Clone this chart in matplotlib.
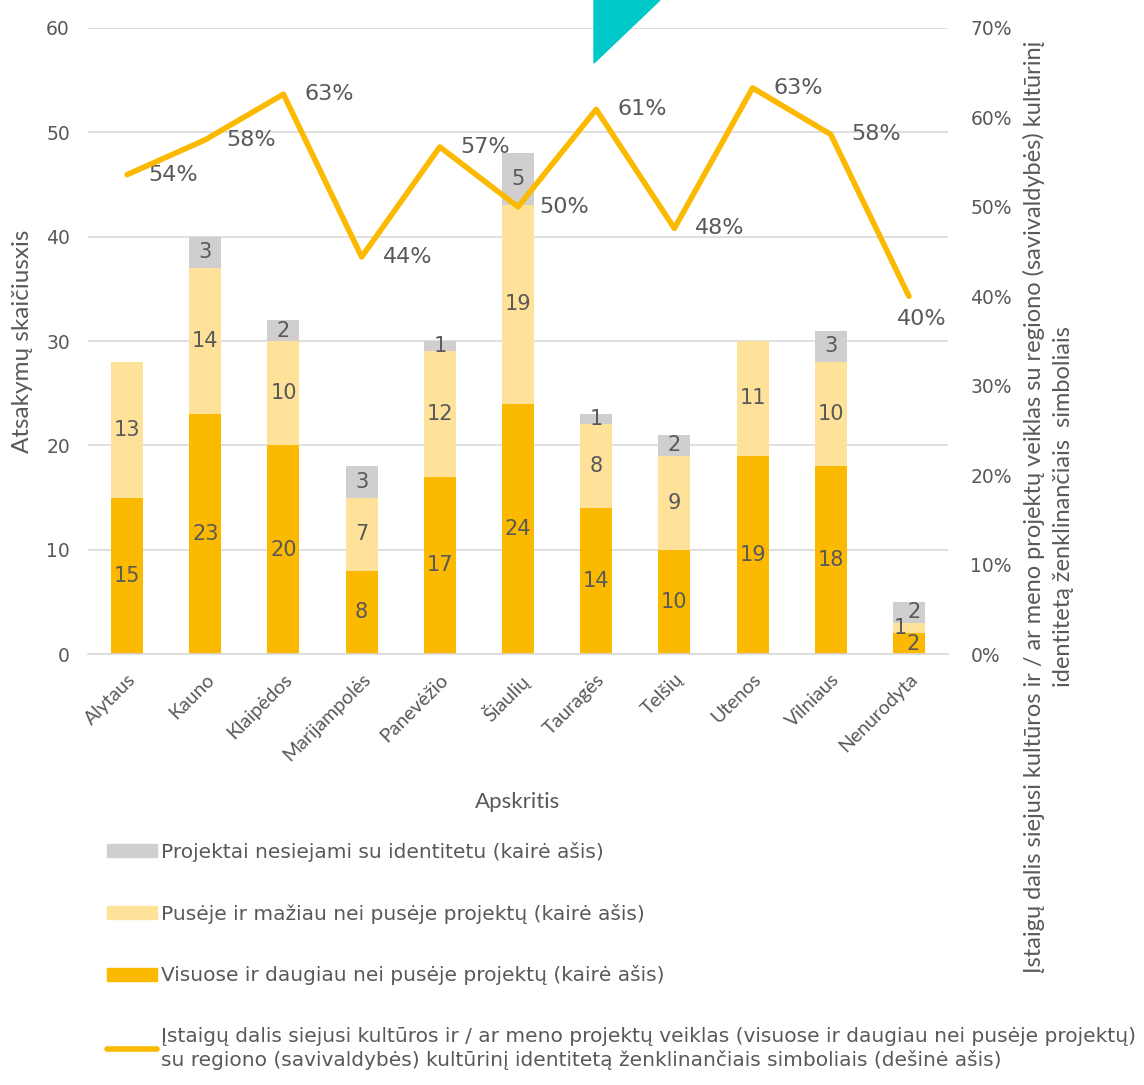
import numpy as np
import matplotlib
matplotlib.use('Agg')
from matplotlib import pyplot as plt
from matplotlib.patches import Polygon, Patch
from matplotlib.lines import Line2D

# data
apskritys = ['Alytaus', 'Kauno', 'Klaipėdos', 'Marijampolės', 'Panevėžio', 'Šiaulių',
             'Tauragės', 'Telšių', 'Utenos', 'Vilniaus', 'Nenurodyta']
visuose = [15, 23, 20, 8, 17, 24, 14, 10, 19, 18, 2]
puseje = [13, 14, 10, 7, 12, 19, 8, 9, 11, 10, 1]
nesiejami = [0, 3, 2, 3, 1, 5, 1, 2, 0, 3, 2]
dalis = [53.6, 57.5, 62.6, 44.4, 56.7, 50.0, 60.9, 47.6, 63.3, 58.1, 40.0]

c_vis = '#FBB900'
c_pus = '#FFE29A'
c_nes = '#D0CECE'
c_txt = '#595959'

geo = ['DejaVu Sans']          # wide, round-ish font for numbers and legend
plt.rcParams['font.family'] = ['Lato', 'DejaVu Sans']

fig = plt.figure(figsize=(11.44, 10.85), dpi=100)
ax = fig.add_axes([0.0769, 0.3972, 0.7518, 0.577])
ax2 = ax.twinx()

x = np.arange(len(apskritys))
w = 0.41
b1 = np.array(visuose)
b2 = b1 + np.array(puseje)
ax.bar(x, visuose, w, color=c_vis, zorder=2)
ax.bar(x, puseje, w, bottom=b1, color=c_pus, zorder=2)
ax.bar(x, nesiejami, w, bottom=b2, color=c_nes, zorder=2)

# segment labels
for i in range(len(x)):
    segs = [(0, visuose[i]), (b1[i], puseje[i]), (b2[i], nesiejami[i])]
    for k, (bot, v) in enumerate(segs):
        if v == 0:
            continue
        dx = 0
        if apskritys[i] == 'Nenurodyta':
            dx = [0.05, -0.11, 0.07][k]
        ax.text(x[i] + dx, bot + v / 2, str(v), ha='center', va='center',
                fontsize=15, color=c_txt, zorder=3, family=geo)

ax.set_xlim(-0.5, len(x) - 0.5)
ax.set_ylim(0, 60)
ax.set_yticks(range(0, 61, 10))
ax.grid(axis='y', color='#D9D9D9', lw=1.2, zorder=0)
ax.set_axisbelow(True)
for s in ['top', 'right', 'left']:
    ax.spines[s].set_visible(False)
ax.spines['bottom'].set_color('#D9D9D9')
ax.spines['bottom'].set_linewidth(1.2)
ax.tick_params(axis='both', length=0, colors=c_txt)
ax.tick_params(axis='y', pad=13, labelsize=13.5)
for t in ax.get_yticklabels():
    t.set_family(geo)
ax.set_xticks(x)
ax.set_xticklabels(apskritys, rotation=45, ha='right', rotation_mode='anchor', fontsize=14)
ax.tick_params(axis='x', pad=12)
ax.set_ylabel('Atsakymų skaičiusxis', fontsize=17.5, color=c_txt, va='center', ha='center')
ax.yaxis.set_label_coords(-0.0767, 0.5)
ax.set_xlabel('Apskritis', fontsize=16, color=c_txt, labelpad=20)

# line on right axis
ax2.plot(x, dalis, color=c_vis, lw=4, solid_capstyle='round', zorder=4)
ax2.set_ylim(0, 70)
ax2.set_yticks(range(0, 71, 10))
ax2.set_yticklabels([f'{v}%' for v in range(0, 71, 10)], family=geo)
for s in ax2.spines.values():
    s.set_visible(False)
ax2.tick_params(axis='y', length=0, colors=c_txt, labelsize=13.5, pad=16)
for i, v in enumerate(dalis):
    off = (15, 0)
    if i == len(dalis) - 1:
        off = (-9, -16)
    ax2.annotate(f'{v:.0f}%', (x[i], v), xytext=off, textcoords='offset points',
                 ha='left', va='center', fontsize=16, color=c_txt, family=geo)
ax2.set_ylabel('Įstaigų dalis siejusi kultūros ir / ar meno projektų veiklas su regiono (savivaldybės) kultūrinį\n'
               'identitetą ženklinančiais  simboliais',
               fontsize=17, color=c_txt, multialignment='center', linespacing=1.5,
               ha='center', va='center')
ax2.yaxis.set_label_coords(1.117, 0.235)

# legend
handles = [Patch(color=c_nes), Patch(color=c_pus), Patch(color=c_vis),
           Line2D([0], [0], color=c_vis, lw=4, solid_capstyle='round')]
labels = ['Projektai nesiejami su identitetu (kairė ašis)',
          'Pusėje ir mažiau nei pusėje projektų (kairė ašis)',
          'Visuose ir daugiau nei pusėje projektų (kairė ašis)',
          'Įstaigų dalis siejusi kultūros ir / ar meno projektų veiklas (visuose ir daugiau nei pusėje projektų)\n'
          'su regiono (savivaldybės) kultūrinį identitetą ženklinančiais simboliais (dešinė ašis)']
leg = fig.legend(handles, labels, loc='upper left', bbox_to_anchor=(0.078, 0.241),
                 frameon=False, handlelength=2.45,
                 handleheight=0.6, handletextpad=0.2, labelspacing=2.08,
                 prop={'family': geo, 'size': 14.5})
for t in leg.get_texts():
    t.set_color(c_txt)

# decorative triangle at top
fig.patches.append(Polygon([[594 / 1144, 1], [660 / 1144, 1], [594 / 1144, 1 - 63 / 1085]],
                           closed=True, transform=fig.transFigure, color='#00C8C8', zorder=5))

fig.savefig('out.png', dpi=100)
